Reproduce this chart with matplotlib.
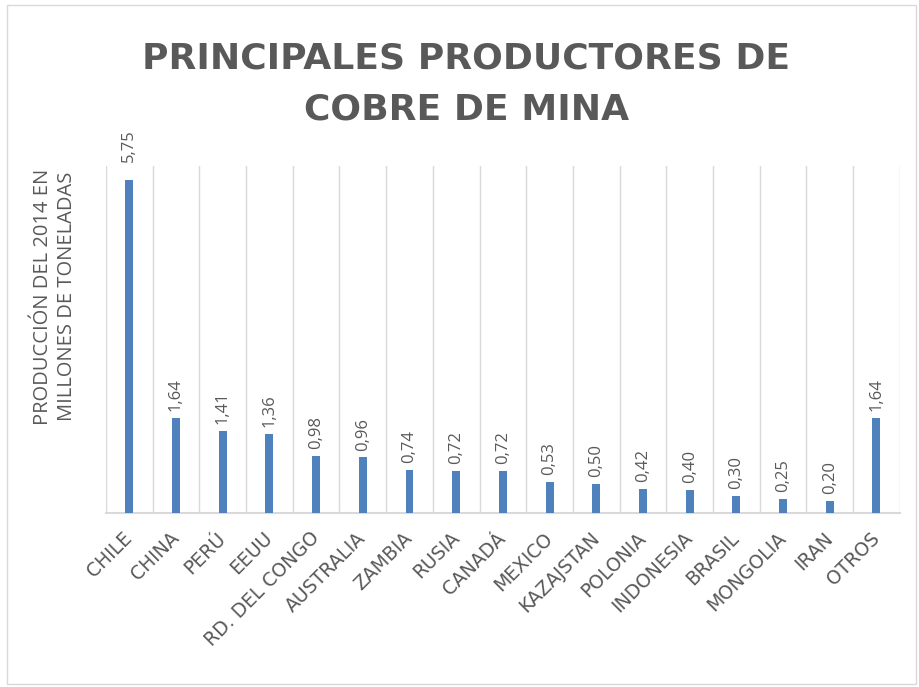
import matplotlib.pyplot as plt
import numpy as np

paises = ['CHILE', 'CHINA', 'PERÚ', 'EEUU', 'RD. DEL CONGO', 'AUSTRALIA', 'ZAMBIA',
          'RUSIA', 'CANADÁ', 'MEXICO', 'KAZAJSTAN', 'POLONIA', 'INDONESIA', 'BRASIL',
          'MONGOLIA', 'IRAN', 'OTROS']
produccion = [5.75, 1.64, 1.41, 1.36, 0.98, 0.96, 0.74, 0.72, 0.72, 0.53, 0.50,
              0.42, 0.40, 0.30, 0.25, 0.20, 1.64]

gris = '#595959'
linea = '#d9d9d9'
azul = '#4f81bd'

fig = plt.figure(figsize=(9.2, 6.87), dpi=100)
fig.patches.append(plt.Rectangle((0.008, 0.005), 0.988, 0.988, transform=fig.transFigure,
                                 fill=False, edgecolor=linea, linewidth=1))
ax = fig.add_axes([0.1152, 0.2533, 0.8628, 0.5051])

x = np.arange(len(paises))
ax.bar(x, produccion, width=0.17, color=azul, zorder=3)

# etiquetas de datos (la mas alta queda un poco mas separada, como en excel)
for xi, v in zip(x, produccion):
    off = 13 if v > 5.5 else 5
    ax.annotate(f'{v:.2f}'.replace('.', ','), (xi, v), xytext=(0, off), textcoords='offset points',
                rotation=90, ha='center', va='bottom', color=gris, fontsize=12,
                family='Open Sans', annotation_clip=False)

ax.set_xlim(-0.5, len(paises) - 0.5)
ax.set_ylim(0, 6)
ax.set_yticks([])

# lineas verticales entre categorias
for b in np.arange(-0.5, len(paises), 1):
    ax.axvline(b, color=linea, linewidth=1, zorder=1)

for s in ['top', 'right', 'left']:
    ax.spines[s].set_visible(False)
ax.spines['bottom'].set_color(linea)
ax.spines['bottom'].set_linewidth(1.5)

ax.set_xticks(x)
ax.set_xticklabels(paises, rotation=45, ha='right', va='center', rotation_mode='anchor',
                   color=gris, fontsize=13.5, family='DejaVu Sans')
ax.tick_params(axis='x', length=0, pad=16)

fig.text(0.06, 0.568, 'PRODUCCIÓN DEL 2014 EN\nMILLONES DE TONELADAS', rotation=90,
         ha='center', va='center', color=gris, fontsize=14.5, family='Open Sans',
         linespacing=1.25)

fig.text(0.507, 0.878, 'PRINCIPALES PRODUCTORES DE\nCOBRE DE MINA', ha='center', va='center',
         color=gris, fontsize=26, fontweight='bold', family='DejaVu Sans', linespacing=1.62)

fig.savefig('out.png', dpi=100)
